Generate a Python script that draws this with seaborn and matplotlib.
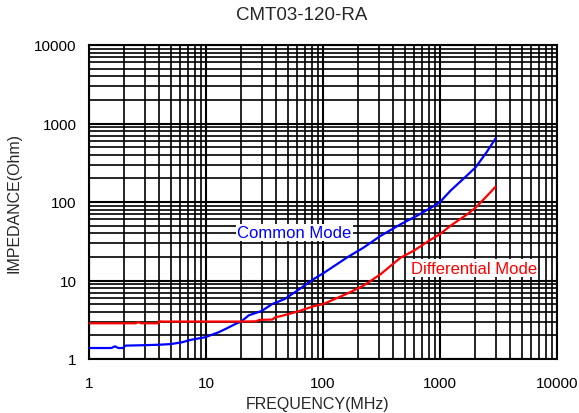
import matplotlib
matplotlib.use('Agg')
import matplotlib.pyplot as plt
import pandas as pd
import seaborn as sns
from matplotlib.ticker import LogLocator, NullFormatter

# values
freq_cm = [1, 1.55, 1.67, 1.78, 1.95, 2.05, 3.0, 4.0, 5.0, 6.2, 7.5, 9.8, 12.8, 15,
           17.8, 20, 23.2, 30, 36.7, 43, 47, 60, 83, 100, 161, 220, 310, 460, 638,
           887, 1000, 1234, 1713, 2018, 2500, 2990]
imp_cm = [1.38, 1.38, 1.45, 1.38, 1.38, 1.48, 1.5, 1.52, 1.55, 1.63, 1.76, 1.89, 2.19, 2.45,
          2.79, 3.0, 3.6, 4.1, 5.0, 5.5, 5.8, 7.4, 10.4, 12.3, 19.7, 26, 37, 52, 67,
          89, 100, 140, 220, 277, 430, 647]

freq_dm = [1, 2.5, 2.64, 2.8, 3.9, 4.0, 4.1, 10, 20, 27, 28.5, 37, 39, 43, 60, 83,
           100, 161, 222, 310, 460, 598, 830, 1000, 1234, 1713, 2018, 2500, 2990]
imp_dm = [2.85, 2.85, 2.95, 2.85, 2.85, 3.05, 3.0, 3.0, 3.0, 3.02, 3.15, 3.18, 3.4, 3.5, 4.0, 4.7,
          5.0, 6.8, 8.6, 12, 19.5, 24, 33, 39, 50, 70, 85, 118, 157]

x_ticks = [1, 10, 100, 1000, 10000]
y_ticks = [1, 10, 100, 1000, 10000]

df = pd.concat([
    pd.DataFrame({'freq': freq_cm, 'imp': imp_cm, 'mode': 'Common Mode'}),
    pd.DataFrame({'freq': freq_dm, 'imp': imp_dm, 'mode': 'Differential Mode'}),
])

sns.set_style('white')
plt.rcParams['font.family'] = ['Liberation Sans', 'DejaVu Sans']

fig = plt.figure(figsize=(5.79, 4.14), dpi=100)
ax = fig.add_axes([89 / 579, 1 - 360 / 414, 468 / 579, 314 / 414])

sns.lineplot(data=df, x='freq', y='imp', hue='mode', estimator=None, sort=False,
             palette={'Common Mode': '#0000ff', 'Differential Mode': '#ff0000'},
             linewidth=1.6, legend=False, ax=ax, zorder=3)

ax.set_xscale('log')
ax.set_yscale('log')
ax.set_xlim(1, 10000)
ax.set_ylim(1, 10000)

ax.set_xticks(x_ticks)
ax.set_xticklabels([str(t) for t in x_ticks])
ax.set_yticks(y_ticks)
ax.set_yticklabels([str(t) for t in y_ticks])
ax.xaxis.set_minor_locator(LogLocator(base=10, subs=range(2, 10), numticks=50))
ax.yaxis.set_minor_locator(LogLocator(base=10, subs=range(2, 10), numticks=50))
ax.xaxis.set_minor_formatter(NullFormatter())
ax.yaxis.set_minor_formatter(NullFormatter())
ax.tick_params(which='both', length=0, labelsize=11, colors='black')
ax.tick_params(axis='x', pad=12)
ax.tick_params(axis='y', pad=9)

ax.grid(True, which='major', color='black', linewidth=1.5)
ax.grid(True, which='minor', color='black', linewidth=1.2)
for s in ax.spines.values():
    s.set_color('black')
    s.set_linewidth(1.5)

ax.set_xlabel('FREQUENCY(MHz)', fontsize=11.5)
ax.set_ylabel('IMPEDANCE(Ohm)', fontsize=11.5)
ax.xaxis.set_label_coords((318 - 89) / 468, (360 - 405) / 314)
ax.xaxis.label.set_va('center')
ax.yaxis.set_label_coords((14 - 89) / 468, 0.5)
ax.yaxis.label.set_va('center')

fig.text(302 / 579, 1 - 15 / 414, 'CMT03-120-RA', fontsize=13.5, ha='center', va='center')

ax.text(18.5, 40.9, 'Common Mode', color='#0000ff', fontsize=12, ha='left', va='center',
        bbox=dict(facecolor='white', edgecolor='none', pad=1), zorder=4)
ax.text(560, 14.3, 'Differential Mode', color='#ff0000', fontsize=12, ha='left', va='center',
        bbox=dict(facecolor='white', edgecolor='none', pad=1), zorder=4)

fig.savefig('out.png', dpi=100)
